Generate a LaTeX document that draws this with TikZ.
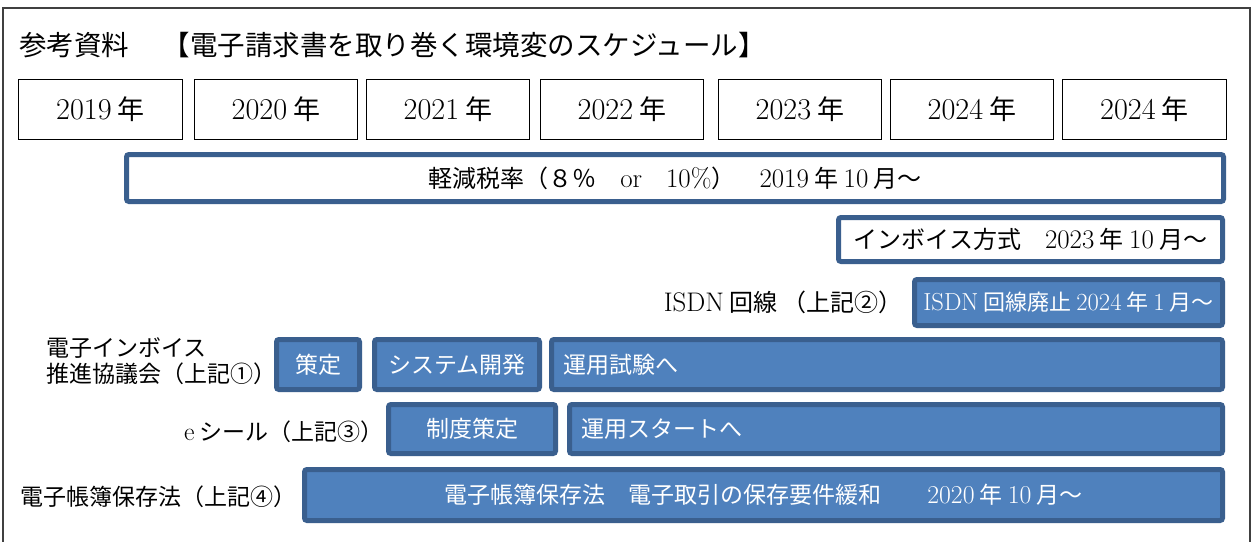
\documentclass[tikz,border=0pt]{standalone}
\usepackage{fontspec}
\newfontfamily\jp{Noto Sans CJK JP}
\makeatletter
\newcommand\lt[1]{{\rmfamily\fontsize{\dimexpr\f@size pt*112/100\relax}{\f@baselineskip}\selectfont #1}}
\makeatother
\definecolor{bfill}{HTML}{4F81BD}
\definecolor{bline}{HTML}{3A5F8E}
\definecolor{frameline}{HTML}{404040}
\begin{document}
\begin{tikzpicture}[x=1pt,y=-1pt,
  yearbox/.style={draw=black, line width=1.1pt, minimum height=60pt, inner sep=0pt,
    font=\fontsize{27}{30}\selectfont\jp},
  wbox/.style={draw=bline, fill=white, line width=5pt, rounded corners=2.5pt, inner sep=0pt,
    font=\fontsize{24}{28}\selectfont\jp, text=black},
  bbox/.style={draw=bline, fill=bfill, line width=5pt, rounded corners=2.5pt, inner sep=0pt,
    font=\fontsize{23}{27}\selectfont\jp, text=white},
  lbl/.style={inner sep=0pt, font=\fontsize{23}{26}\selectfont\jp, text=black}
]
\useasboundingbox (0,0) rectangle (1256,541);
\fill[white] (0,0) rectangle (1256,541);
\draw[frameline, line width=1.5pt] (3,8) rectangle (1250,620);

% title
\node[lbl, anchor=west, font=\fontsize{27.5}{30}\selectfont\jp] (title) at (19,45)
  {参考資料　\hspace{6pt}【電子請求書を取り巻く環境変のスケジュール】};

% year boxes
\node[yearbox, minimum width=164pt] (y1) at (100.5,109.5) {\lt{2019} 年};
\node[yearbox, minimum width=163pt] (y2) at (276,109.5) {\lt{2020} 年};
\node[yearbox, minimum width=163pt] (y3) at (448,109.5) {\lt{2021} 年};
\node[yearbox, minimum width=163pt] (y4) at (622,109.5) {\lt{2022} 年};
\node[yearbox, minimum width=163pt] (y5) at (800,109.5) {\lt{2023} 年};
\node[yearbox, minimum width=163pt] (y6) at (972,109.5) {\lt{2024} 年};
\node[yearbox, minimum width=164pt] (y7) at (1144.5,109.5) {\lt{2024} 年};

% row 1
\node[wbox, minimum width=1097pt, minimum height=47pt] (r1) at (675,178)
  {軽減税率（８％　\lt{or}　\lt{10\%}）　\lt{2019} 年 \lt{10} 月～};

% row 2
\node[wbox, minimum width=384pt, minimum height=44pt] (r2) at (1030.5,239.5)
  {インボイス方式　\lt{2023} 年 \lt{10} 月～};

% row 3 ISDN
\node[bbox, minimum width=308pt, minimum height=46pt, font=\fontsize{22}{26}\selectfont\jp] (isdn) at (1068.5,302.5)
  {\lt{ISDN} 回線廃止 \lt{2024} 年 \lt{1} 月～};
\node[lbl, anchor=east, font=\fontsize{24}{27}\selectfont\jp] (isdnl) at (903,302)
  {\lt{ISDN} 回線 （上記②）};

% row 4
\node[lbl, anchor=west, align=left] (einv) at (46,361)
  {電子インボイス\\推進協議会（上記①）};
\node[bbox, minimum width=83pt, minimum height=50pt] (sakutei) at (318,364.5) {策定};
\node[bbox, minimum width=165pt, minimum height=50pt] (sysdev) at (457,364.5) {システム開発};
\node[bbox, minimum width=671pt, minimum height=50pt, text width=647pt, align=left] (unyo1) at (887,364.5) {運用試験へ};

% row 5
\node[lbl, anchor=east] (eseal) at (384,432) {\lt{e} シール（上記③）};
\node[bbox, minimum width=167pt, minimum height=49pt] (seido) at (472,429) {制度策定};
\node[bbox, minimum width=653pt, minimum height=49pt, text width=629pt, align=left] (unyo2) at (896,429) {運用スタートへ};

% row 6
\node[lbl, anchor=east] (dench) at (297,497) {電子帳簿保存法（上記④）};
\node[bbox, minimum width=918pt, minimum height=51pt] (denbox) at (763.5,495)
  {電子帳簿保存法　電子取引の保存要件緩和　　\lt{2020} 年 \lt{10} 月～};
\end{tikzpicture}
\end{document}
